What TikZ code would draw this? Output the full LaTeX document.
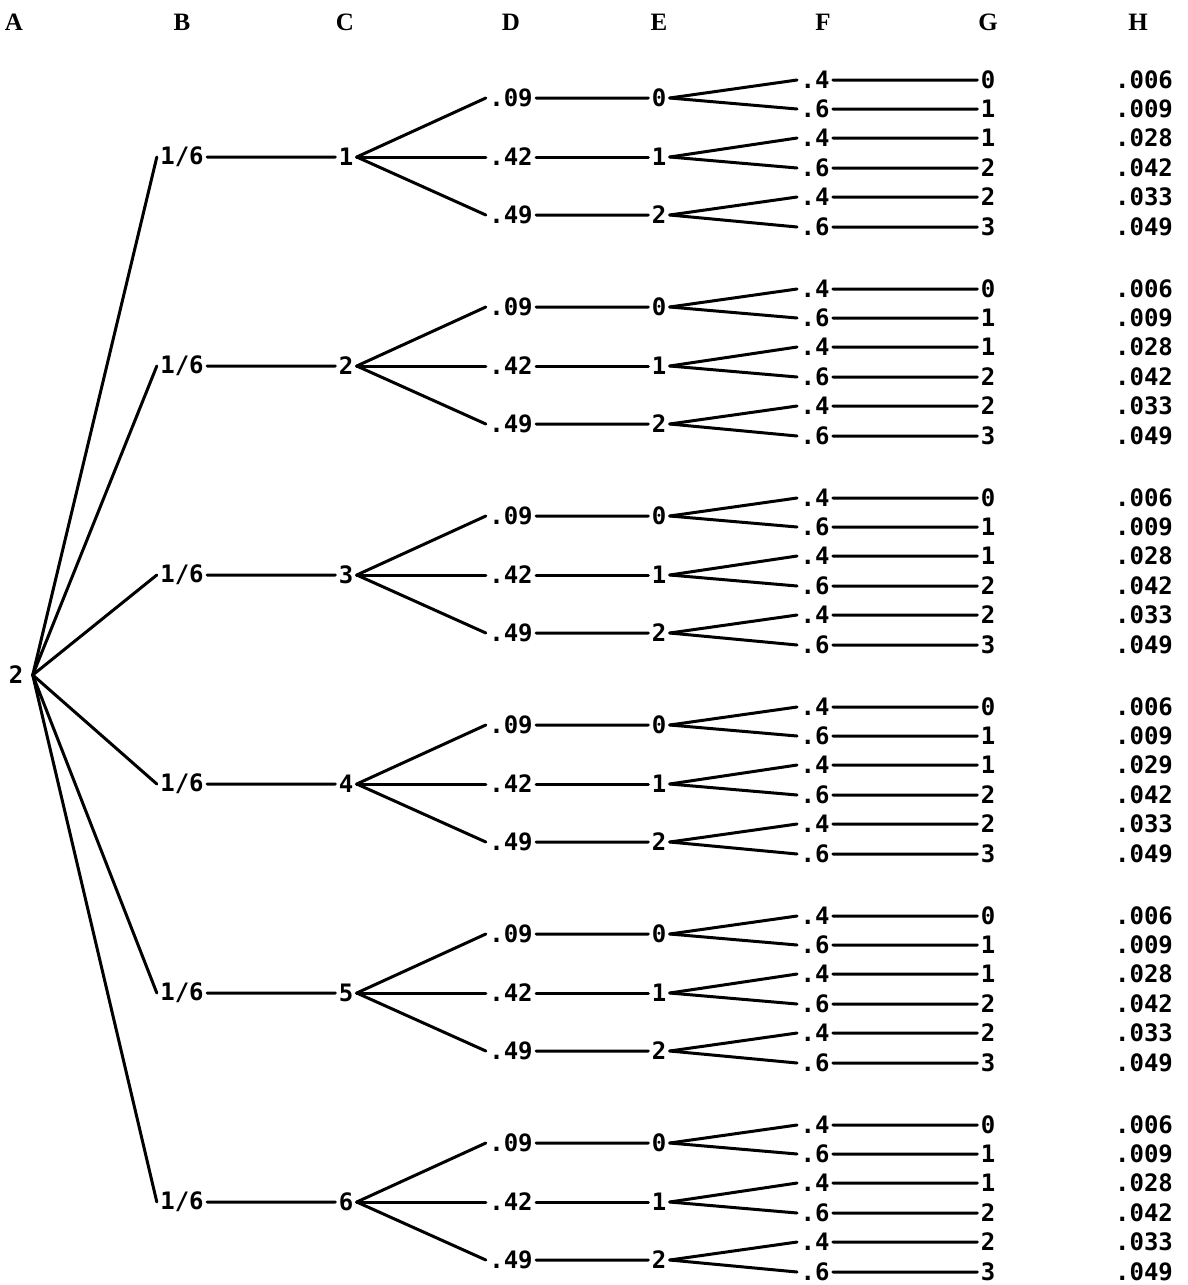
\documentclass[tikz,border=0pt]{standalone}
\usepackage{fontspec}
\newfontfamily\numfont{DejaVu Sans Mono}
\newfontfamily\headfont{Liberation Serif}
\begin{document}
\begin{tikzpicture}[x=0.5pt,y=-0.5pt,line join=round,line cap=round,line width=1.5pt,
	lbl/.style={inner sep=1pt,font=\numfont\bfseries\fontsize{12}{14}\selectfont},
	hd/.style={inner sep=1pt,font=\headfont\bfseries\fontsize{12.5}{14}\selectfont}]
	\useasboundingbox (0,0) rectangle (1188,1285);
	% column heads
	\foreach \c/\x in {A/14,B/182,C/345,D/511,E/659,F/823,G/988,H/1138}
		\node[hd] (head\c) at (\x,22) {\c};
	\node[lbl,inner xsep=4pt] (root) at (16,675) {2};
	\foreach \g in {1,...,6}{
		\pgfmathsetmacro{\Y}{157+209*(\g-1)}
		\node[lbl] (B\g) at (182,\Y) {1/6};
		\node[lbl] (C\g) at (346,\Y) {\g};
		\draw (root.east)--(B\g.west) (B\g)--(C\g);
		\foreach \d/\p/\dy in {0/.09/-59,1/.42/0,2/.49/58}{
			\node[lbl] (D\g\d) at (511,\Y+\dy) {\p};
			\node[lbl] (E\g\d) at (659,\Y+\dy) {\d};
			\draw (C\g.east)--(D\g\d.west) (D\g\d)--(E\g\d);
		}
		\foreach \r/\dy/\p/\v/\h in {1/-77/.4/0/.006,2/-48/.6/1/.009,3/-19/.4/1/.028,4/11/.6/2/.042,5/40/.4/2/.033,6/70/.6/3/.049}{
			\pgfmathtruncatemacro{\e}{int((\r-1)/2)}
			\node[lbl] (F\g\r) at (815,\Y+\dy) {\p};
			\node[lbl] (G\g\r) at (988,\Y+\dy) {\v};
			\node[lbl] (H\g\r) at (1144,\Y+\dy) {\ifnum\g\r=43 .029\else\h\fi};
			\draw (E\g\e.east)--(F\g\r.west) (F\g\r)--(G\g\r);
		}
	}
\end{tikzpicture}
\end{document}
